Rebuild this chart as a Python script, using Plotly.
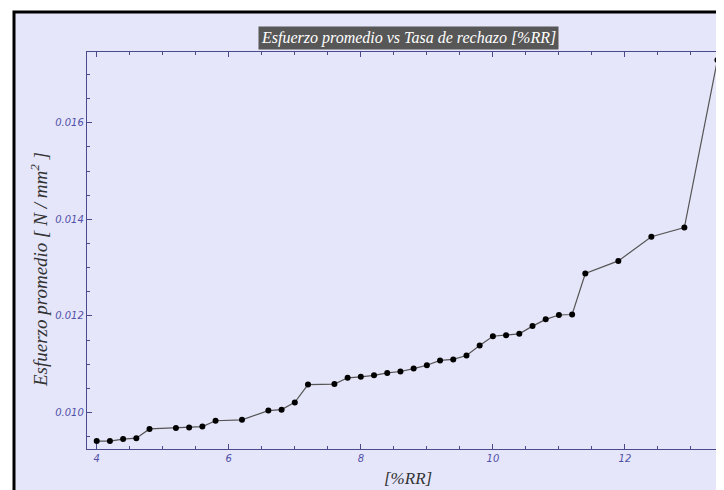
import plotly.graph_objects as go

# Data
rr = [4.0, 4.2, 4.4, 4.6, 4.8, 5.2, 5.4, 5.6, 5.8, 6.2, 6.6, 6.8, 7.0, 7.2, 7.6,
      7.8, 8.0, 8.2, 8.4, 8.6, 8.8, 9.0, 9.2, 9.4, 9.6, 9.8, 10.0, 10.2, 10.4,
      10.6, 10.8, 11.0, 11.2, 11.4, 11.9, 12.4, 12.9, 13.4]
esfuerzo = [0.00941, 0.00941, 0.00945, 0.00947, 0.00966, 0.00968, 0.00969, 0.00971,
            0.00983, 0.00985, 0.01004, 0.01006, 0.01021, 0.01058, 0.01059,
            0.01072, 0.01074, 0.01077, 0.01082, 0.01085, 0.01091, 0.01098, 0.01108,
            0.01110, 0.01118, 0.01139, 0.01158, 0.01160, 0.01163, 0.01179, 0.01193,
            0.01202, 0.01203, 0.01288, 0.01314, 0.01364, 0.01383, 0.01730]

title_text = "Esfuerzo promedio vs Tasa de rechazo [%RR]"
x_label = "[%RR]"
y_label = "Esfuerzo promedio [ N / mm<sup>2</sup> ]"

W, H = 724, 490
L, R, T, B = 79, 3, 44, 49
PW, PH = W - L - R, H - T - B

def px_x(px):
    return (px - L) / PW

def px_y(py):
    return (H - B - py) / PH

LAV = "#E6E6FA"
AXC = "#4a4a8c"
TICKC = "#5050a8"
SERIF = "Liberation Serif"

fig = go.Figure()
fig.add_trace(go.Scatter(
    x=rr, y=esfuerzo, mode="lines+markers",
    line=dict(color="#555555", width=1.2),
    marker=dict(color="black", size=6),
    showlegend=False, hoverinfo="x+y",
))

axis_common = dict(
    showline=True, linecolor=AXC, linewidth=1.3, mirror="allticks",
    ticks="inside", tickcolor=AXC, ticklen=5, tickwidth=1,
    showgrid=False, zeroline=False,
    tickfont=dict(family="DejaVu Sans", size=10, color=TICKC, style="italic"),
)

fig.update_xaxes(range=[3.853, 13.576], tick0=0, dtick=2,
                 minor=dict(ticks="inside", dtick=0.5, ticklen=3, tickcolor=AXC),
                 **axis_common)
fig.update_yaxes(range=[0.009245, 0.017467], tick0=0, dtick=0.002, tickformat=".3f",
                 minor=dict(ticks="inside", dtick=0.0005, ticklen=3, tickcolor=AXC),
                 **axis_common)

fig.update_layout(
    width=W, height=H,
    margin=dict(l=L, r=R, t=T, b=B),
    paper_bgcolor="white", plot_bgcolor=LAV,
    shapes=[dict(type="rect", xref="paper", yref="paper",
                 x0=px_x(6), x1=px_x(732), y0=px_y(487), y1=px_y(4),
                 line=dict(color="black", width=3), fillcolor=LAV, layer="below")],
    annotations=[
        dict(text=title_text, xref="paper", yref="paper", x=0.5, y=px_y(30),
             showarrow=False, bgcolor="#575757", borderpad=2,
             font=dict(family=SERIF, size=16, color="white", style="italic"),
             xanchor="center", yanchor="middle"),
        dict(text=x_label, xref="paper", yref="paper", x=0.5, y=px_y(471),
             showarrow=False,
             font=dict(family=SERIF, size=17, color="#333333", style="italic"),
             xanchor="center", yanchor="middle"),
        dict(text=y_label, xref="paper", yref="paper", x=px_x(31), y=px_y(262),
             showarrow=False, textangle=-90,
             font=dict(family=SERIF, size=19, color="#333333", style="italic"),
             xanchor="center", yanchor="middle"),
    ],
)

fig.write_html("out.html")
